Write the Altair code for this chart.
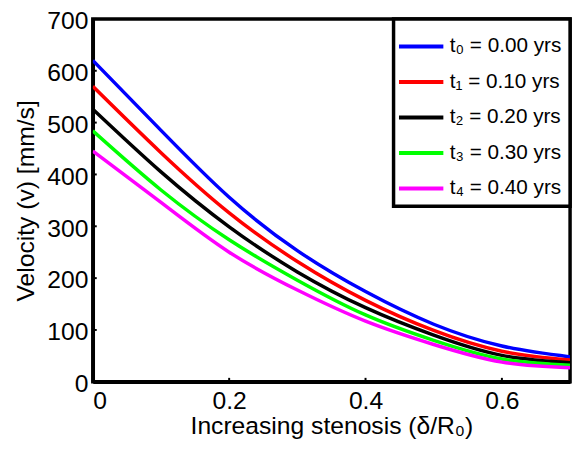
import altair as alt
import pandas as pd

x_vals = [0.0, 0.1, 0.2, 0.3, 0.4, 0.5, 0.6, 0.7]
v_t0 = [620, 485, 356, 253, 174, 111, 69, 48]
v_t1 = [570, 442, 326, 232, 157, 99, 59, 42]
v_t2 = [526, 405, 299, 212, 143, 90, 51, 37]
v_t3 = [484, 370, 274, 196, 129, 80, 44, 32]
v_t4 = [445, 346, 250, 177, 117, 72, 38, 27]
series_labels = ["t₀ = 0.00 yrs", "t₁ = 0.10 yrs", "t₂ = 0.20 yrs",
                 "t₃ = 0.30 yrs", "t₄ = 0.40 yrs"]
series_colors = ["#0000ff", "#ff0000", "#000000", "#00ff00", "#ff00ff"]
x_ticks = [0, 0.2, 0.4, 0.6]
y_ticks = [0, 100, 200, 300, 400, 500, 600, 700]

rows = []
for lab, vals in zip(series_labels, [v_t0, v_t1, v_t2, v_t3, v_t4]):
    for xv, yv in zip(x_vals, vals):
        rows.append({"x": xv, "v": yv, "series": lab})
df = pd.DataFrame(rows)

W, H = 484, 368
FONT = "Liberation Sans"

xscale = alt.Scale(domain=[0, 0.7], nice=False, zero=False)
yscale = alt.Scale(domain=[0, 700], nice=False)

lines = alt.Chart(df).mark_line(strokeWidth=3.5, interpolate="natural", clip=True).encode(
    x=alt.X("x:Q", scale=xscale,
            axis=alt.Axis(values=x_ticks, title="Increasing stenosis (δ/R₀)",
                          format="~g", grid=False, ticks=False, labelPadding=7,
                          titlePadding=0)),
    y=alt.Y("v:Q", scale=yscale,
            axis=alt.Axis(values=y_ticks, title="Velocity (v) [mm/s]",
                          grid=False, ticks=False, labelPadding=5, titlePadding=8,
                          labelOffset=2)),
    color=alt.Color("series:N", sort=series_labels,
                    scale=alt.Scale(domain=series_labels, range=series_colors),
                    legend=alt.Legend(title=None, orient="top-right", offset=0,
                                      symbolType="M-1.25,0H1.25", symbolSize=1296,
                                      symbolStrokeWidth=4, symbolFillColor="transparent",
                                      labelFontSize=21,
                                      labelFont=FONT, labelColor="black",
                                      labelOffset=9, rowPadding=6,
                                      padding=8, strokeColor="black",
                                      fillColor="white")),
)

xt = pd.DataFrame({"t": x_ticks})
yt = pd.DataFrame({"t": y_ticks})
xtick_marks = alt.Chart(xt).mark_rule(color="black", strokeWidth=2).encode(
    x=alt.X("t:Q", scale=xscale), y=alt.value(H), y2=alt.value(H - 4))
ytick_marks = alt.Chart(yt).mark_rule(color="black", strokeWidth=2).encode(
    y=alt.Y("t:Q", scale=yscale), x=alt.value(0), x2=alt.value(4))

chart = alt.layer(lines, xtick_marks, ytick_marks).properties(
    width=W, height=H,
    autosize=alt.AutoSizeParams(type="none"),
    padding={"left": 86, "top": 8, "right": 5, "bottom": 60},
).configure_view(stroke="black", strokeWidth=3.5).configure_axis(
    domain=True, domainColor="black", domainWidth=3.5,
    labelFont=FONT, labelFontSize=25, labelColor="black",
    titleFont=FONT, titleFontSize=25, titleColor="black", titleFontWeight="normal",
).configure_legend(strokeWidth=3.5)

chart.save("out.html", embed_options={"renderer": "svg", "actions": False})
